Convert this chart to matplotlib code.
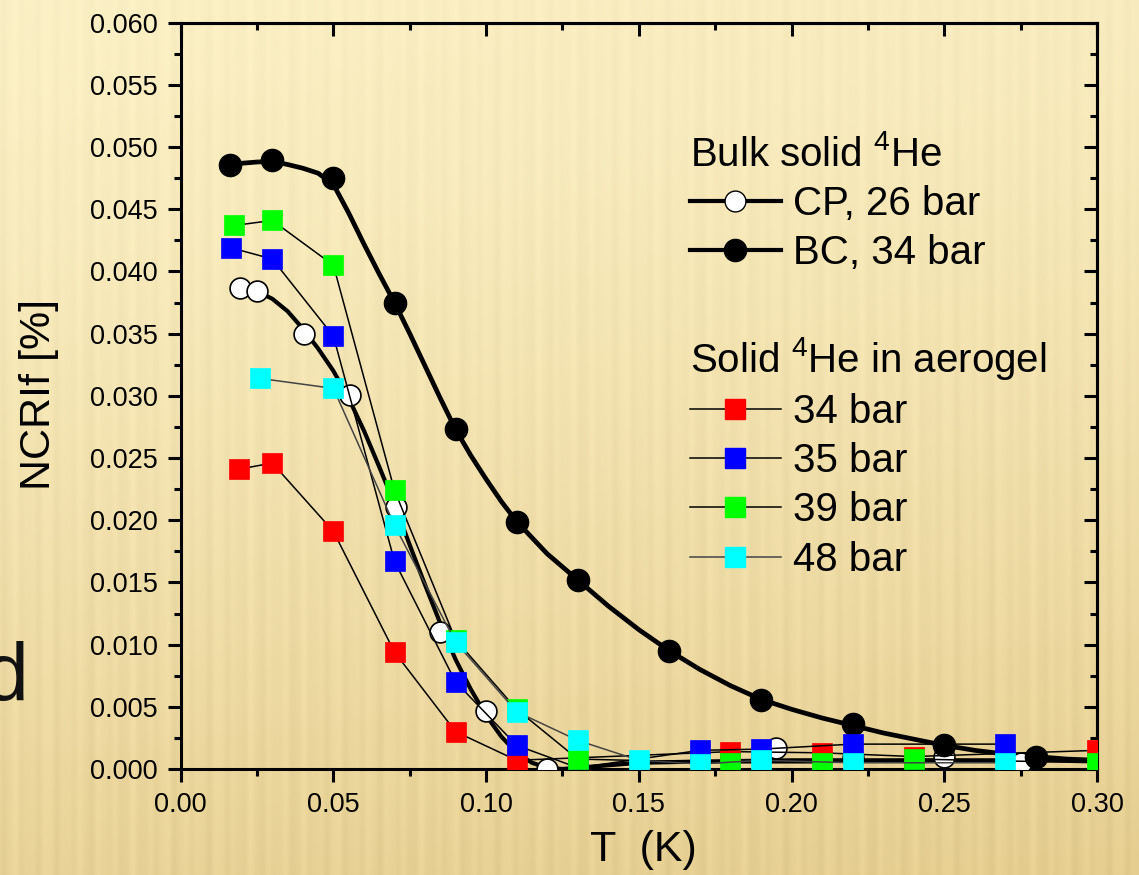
import numpy as np
import matplotlib
matplotlib.use("Agg")
import matplotlib.pyplot as plt
from matplotlib.ticker import MultipleLocator

plt.rcParams["font.family"] = ["Liberation Sans", "DejaVu Sans"]
plt.rcParams["mathtext.fontset"] = "custom"
plt.rcParams["mathtext.rm"] = "Liberation Sans"
plt.rcParams["mathtext.it"] = "Liberation Sans:italic"

# bulk solid 4He, BC 34 bar (filled circles) and its fit curve
bc_T = [0.016, 0.03, 0.05, 0.07, 0.09, 0.11, 0.13, 0.16, 0.19, 0.22, 0.25, 0.28]
bc_n = [0.04855, 0.04895, 0.04751, 0.03746, 0.02733, 0.01986, 0.01519, 0.00949,
        0.00555, 0.00365, 0.00193, 0.00094]
bc_fit_T = [0.016, 0.02, 0.025, 0.03, 0.035, 0.04, 0.045, 0.05, 0.055, 0.06, 0.065,
            0.07, 0.075, 0.08, 0.085, 0.09, 0.095, 0.10, 0.105, 0.11, 0.12, 0.13,
            0.14, 0.15, 0.16, 0.17, 0.18, 0.19, 0.20, 0.21, 0.22, 0.23, 0.24, 0.25,
            0.26, 0.27, 0.28, 0.29, 0.30]
bc_fit_n = [0.04855, 0.0487, 0.0488, 0.04885, 0.0486, 0.0483, 0.0479, 0.0470, 0.0447,
            0.0422, 0.0398, 0.0375, 0.0350, 0.0324, 0.0298, 0.0273, 0.0252, 0.0233,
            0.0215, 0.0199, 0.0173, 0.0152, 0.0131, 0.0112, 0.0095, 0.0080, 0.0067,
            0.0056, 0.0048, 0.0041, 0.0035, 0.0029, 0.0024, 0.0019, 0.0015, 0.0012,
            0.0010, 0.0008, 0.0007]

# bulk solid 4He, CP 26 bar (open circles) and its fit curve
cp_T = [0.0195, 0.025, 0.0405, 0.0555, 0.0705, 0.085, 0.10, 0.12, 0.195, 0.22, 0.25, 0.275]
cp_n = [0.0387, 0.0384, 0.0350, 0.0301, 0.0211, 0.0110, 0.0047, 0.0000, 0.0017,
        0.0009, 0.0010, 0.0005]
cp_fit_T = [0.025, 0.03, 0.035, 0.04, 0.045, 0.05, 0.055, 0.06, 0.065, 0.07, 0.075,
            0.08, 0.085, 0.09, 0.095, 0.10, 0.105, 0.11, 0.115, 0.12, 0.125, 0.13,
            0.14, 0.15, 0.17, 0.20, 0.25, 0.30]
cp_fit_n = [0.0384, 0.0378, 0.0368, 0.0354, 0.0338, 0.0320, 0.0298, 0.0272, 0.0243,
            0.0213, 0.0180, 0.0148, 0.0117, 0.0088, 0.0064, 0.0043, 0.0026, 0.0013,
            0.0005, 0.0001, 0.0, 0.0001, 0.0003, 0.0005, 0.0006, 0.0007, 0.0007, 0.0007]

# solid 4He in aerogel
red_T = [0.019, 0.03, 0.05, 0.07, 0.09, 0.11, 0.18, 0.21, 0.24, 0.30]
red_n = [0.0241, 0.0246, 0.0191, 0.0094, 0.0030, 0.0007, 0.0014, 0.0013, 0.0010, 0.0015]
blue_T = [0.0165, 0.03, 0.05, 0.07, 0.09, 0.11, 0.13, 0.17, 0.19, 0.22, 0.27]
blue_n = [0.0419, 0.0410, 0.0348, 0.0167, 0.0070, 0.0019, 0.0001, 0.0015, 0.0016,
          0.0020, 0.0020]
green_T = [0.0175, 0.03, 0.05, 0.07, 0.09, 0.11, 0.13, 0.18, 0.21, 0.24, 0.30]
green_n = [0.0437, 0.0441, 0.0405, 0.0224, 0.0104, 0.0048, 0.0008, 0.0005, 0.0005,
           0.0008, 0.0005]
cyan_T = [0.026, 0.05, 0.07, 0.09, 0.11, 0.13, 0.15, 0.17, 0.19, 0.22, 0.27]
cyan_n = [0.0314, 0.0306, 0.0196, 0.0102, 0.0046, 0.0023, 0.0007, 0.0004, 0.0007,
          0.0005, 0.0005]

aerogel = [("34 bar", red_T, red_n, "#ff0000", "black"),
           ("35 bar", blue_T, blue_n, "#0000ff", "black"),
           ("39 bar", green_T, green_n, "#00ff00", "black"),
           ("48 bar", cyan_T, cyan_n, "#00ffff", "#444444")]

W, H = 1139, 875
fig = plt.figure(figsize=(W / 100, H / 100), dpi=100)

# striped beige slide background
bg = fig.add_axes([0, 0, 1, 1], zorder=-10)
xx = np.arange(W)[None, :]
yy = np.linspace(0, 1, H)[:, None]
top = np.array([251, 240, 197]) / 255
bot = np.array([229, 205, 143]) / 255
t = (yy ** 1.3) * 0.85 + 0.15 * (xx / W)
stripes = (0.5 * np.sin(2 * np.pi * xx / 17.0 + 0.3 * np.sin(yy * 6))
           + 0.3 * np.sin(2 * np.pi * xx / 29.0 + 1.0)
           + 0.2 * np.sin(2 * np.pi * xx / 9.0))
img = top[None, None, :] * (1 - t[..., None]) + bot[None, None, :] * t[..., None]
img = img - 0.02 * stripes[..., None] * (0.6 + 0.6 * yy[..., None])
bg.imshow(np.clip(img, 0, 1), aspect="auto", extent=[0, 1, 0, 1])
bg.set_axis_off()

fig.text(28 / W, 1 - 700 / H, "d", ha="right", va="baseline", fontsize=58, color="#111111")

L, R, B, T_ = 180.7, 1097, 769, 22.7
ax = fig.add_axes([L / W, 1 - B / H, (R - L) / W, (B - T_) / H])
ax.patch.set_alpha(0)

ax.plot(cp_fit_T, cp_fit_n, color="black", lw=3.0, zorder=2)
ax.plot(bc_fit_T, bc_fit_n, color="black", lw=3.4, zorder=2)
ax.plot(cp_T, cp_n, ls="none", marker="o", ms=15, mfc="white", mec="black", mew=1.2, zorder=3)
ax.plot(bc_T, bc_n, ls="none", marker="o", ms=16, mfc="black", mec="black", zorder=4)

for i, (lab, xs, ys, c, lc) in enumerate(aerogel):
    ax.plot(xs, ys, color=lc, lw=1.1, zorder=5 + 2 * i)
    ax.plot(xs, ys, ls="none", marker="s", ms=14.5, mfc=c, mec=c, mew=0.5, zorder=6 + 2 * i)

ax.set_xlim(0, 0.30)
ax.set_ylim(0, 0.060)
ax.xaxis.set_major_locator(MultipleLocator(0.05))
ax.xaxis.set_minor_locator(MultipleLocator(0.025))
ax.yaxis.set_major_locator(MultipleLocator(0.005))
ax.yaxis.set_minor_locator(MultipleLocator(0.0025))
ax.xaxis.set_major_formatter(plt.FormatStrFormatter("%.2f"))
ax.yaxis.set_major_formatter(plt.FormatStrFormatter("%.3f"))
for s in ax.spines.values():
    s.set_linewidth(2.2)
ax.tick_params(which="both", direction="out", width=2.2, labelsize=19.5,
               top=False, right=False)
ax.tick_params(which="major", length=9.5)
ax.tick_params(which="minor", length=5)
ax.tick_params(axis="x", pad=7)
ax.tick_params(axis="y", pad=7)

# inward ticks on top and right
tx = ax.secondary_xaxis("top")
tx.xaxis.set_major_locator(MultipleLocator(0.05))
tx.xaxis.set_minor_locator(MultipleLocator(0.025))
tx.tick_params(which="both", direction="in", width=2.2, labeltop=False)
tx.tick_params(which="major", length=9.5)
tx.tick_params(which="minor", length=5)
tx.spines["top"].set_linewidth(2.2)
ty = ax.secondary_yaxis("right")
ty.yaxis.set_major_locator(MultipleLocator(0.005))
ty.yaxis.set_minor_locator(MultipleLocator(0.0025))
ty.tick_params(which="both", direction="in", width=2.2, labelright=False)
ty.tick_params(which="major", length=9.5)
ty.tick_params(which="minor", length=5)
ty.spines["right"].set_linewidth(2.2)

ax.set_xlabel("T  (K)", fontsize=31)
ax.xaxis.set_label_coords(0.505, -0.082)
ax.set_ylabel("NCRIf [%]", fontsize=31)
ax.yaxis.set_label_coords(-0.133, 0.502)

h_cp, = ax.plot([], [], color="black", lw=3, marker="o", ms=15, mfc="white", mec="black")
h_bc, = ax.plot([], [], color="black", lw=3, marker="o", ms=16, mfc="black", mec="black")
leg1 = ax.legend([h_cp, h_bc], ["CP, 26 bar", "BC, 34 bar"],
                 title="Bulk solid $\\mathregular{^4}$He", title_fontsize=29, fontsize=29,
                 loc="upper left", bbox_to_anchor=(0.556, 0.85), frameon=False,
                 alignment="left", handlelength=2.25, handletextpad=0.3,
                 labelspacing=0.28, borderpad=0, borderaxespad=0)
ax.add_artist(leg1)
hs = []
for lab, xs, ys, c, lc in aerogel:
    h, = ax.plot([], [], color=lc, lw=1.1, marker="s", ms=14.5, mfc=c, mec=c)
    hs.append(h)
leg2 = ax.legend(hs, [a[0] for a in aerogel],
                 title="Solid $\\mathregular{^4}$He in aerogel", title_fontsize=29, fontsize=29,
                 loc="upper left", bbox_to_anchor=(0.556, 0.582), frameon=False,
                 alignment="left", handlelength=2.25, handletextpad=0.3,
                 labelspacing=0.28, borderpad=0, borderaxespad=0)

fig.savefig("out.png", dpi=100)
plt.close(fig)
